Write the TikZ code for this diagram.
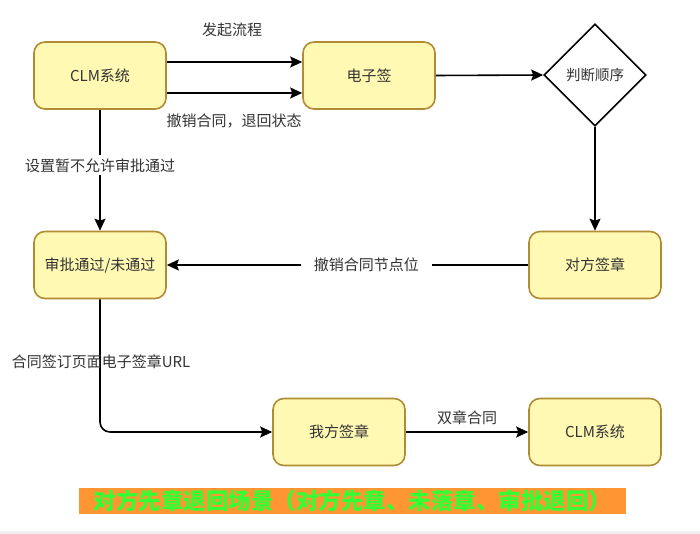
\documentclass[tikz,border=0pt]{standalone}
\usepackage{fontspec}
\setmainfont{Noto Sans CJK SC}
\usetikzlibrary{shapes.geometric,arrows.meta}
\definecolor{boxfill}{RGB}{255,249,180}
\definecolor{boxline}{RGB}{178,140,52}
\definecolor{txt}{RGB}{51,51,51}
\definecolor{banner}{RGB}{255,150,50}
\definecolor{bannertxt}{RGB}{50,255,50}
\begin{document}
\begin{tikzpicture}[x=1pt,y=-1pt,
  box/.style={draw=boxline,fill=boxfill,line width=1.6pt,rounded corners=11pt,
    minimum width=132pt,minimum height=67pt,inner sep=0pt,text=txt,
    font=\fontsize{15}{17}\selectfont},
  dia/.style={diamond,draw=black,line width=1.6pt,aspect=1,minimum width=102pt,
    minimum height=102pt,inner sep=0pt,text=txt,font=\fontsize{14.5}{16}\selectfont},
  arr/.style={line width=1.6pt,-{Stealth[length=12pt,width=11pt,inset=2pt]}},
  lbl/.style={text=txt,font=\fontsize{15}{17}\selectfont,inner sep=1pt}]
\fill[white] (0,0) rectangle (700,534);
\fill[gray!12] (0,531) rectangle (700,534);
\useasboundingbox (0,0) rectangle (700,534);

\node[box] (clm) at (100,75.5) {CLM系统};
\node[box] (esign) at (369,75.5) {电子签};
\node[dia] (judge) at (595,75) {判断顺序};
\node[box] (shenpi) at (100,265) {审批通过/未通过};
\node[box] (duifang) at (595,265) {对方签章};
\node[box] (wofang) at (339,432) {我方签章};
\node[box] (clm2) at (595,432) {CLM系统};

\draw[arr] ([yshift=13.5pt]clm.east) -- ([yshift=13.5pt]esign.west);
\draw[arr] ([yshift=-17.5pt]clm.east) -- ([yshift=-17.5pt]esign.west);
\node[lbl] (l1) at (232,30) {发起流程};
\node[lbl] (l2) at (234,121) {撤销合同，退回状态};
\draw[arr] (esign.east) -- (judge.west);
\draw[arr] (judge.south) -- (duifang.north);
\draw[arr] (clm.south) -- node[lbl,pos=0.46,fill=white,inner ysep=3pt] {设置暂不允许审批通过} (shenpi.north);
\draw[arr] (duifang.west) -- node[lbl,pos=0.448,fill=white,inner xsep=13pt,inner ysep=3pt] {撤销合同节点位} (shenpi.east);
\draw[arr,rounded corners=10pt] (shenpi.south) |- (wofang.west);
\node[lbl] (l3) at (101,362) {合同签订页面电子签章URL};
\draw[arr] (wofang.east) -- node[lbl,above=5pt] {双章合同} (clm2.west);

\node[fill=banner,minimum width=547pt,minimum height=26pt,inner sep=0pt,
  text=bannertxt,font=\fontsize{22.5}{24}\selectfont\bfseries] (ban) at (352.5,501)
  {对方先章退回场景（对方先章、未落章、审批退回）};
\end{tikzpicture}
\end{document}
